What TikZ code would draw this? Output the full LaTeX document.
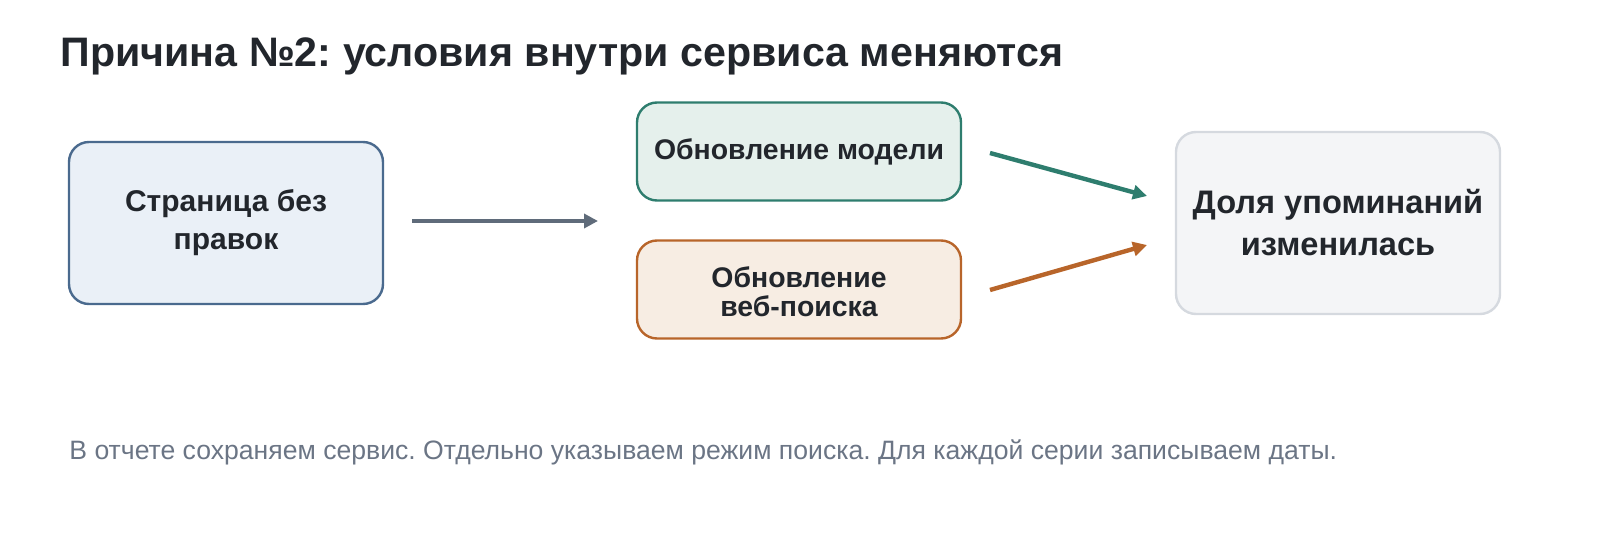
\documentclass[tikz,border=0pt]{standalone}
\usepackage{fontspec}
\setmainfont{Liberation Sans}
\frenchspacing
\definecolor{ink}{HTML}{22262C}
\definecolor{mut}{HTML}{6B7585}
\definecolor{srcln}{HTML}{4A6A8E}\definecolor{srcbg}{HTML}{EAF0F7}
\definecolor{modln}{HTML}{2E7D6E}\definecolor{modbg}{HTML}{E5F0EC}
\definecolor{webln}{HTML}{B8652A}\definecolor{webbg}{HTML}{F7EDE3}
\definecolor{outln}{HTML}{D5D9DF}\definecolor{outbg}{HTML}{F4F5F7}
\definecolor{arr}{HTML}{5F6B7A}
\usetikzlibrary{arrows.meta}
\begin{document}
\begin{tikzpicture}[x=0.5pt,y=-0.5pt]
\tikzstyle{bx}=[rounded corners=10pt,line width=1.2pt,align=center,font=\bfseries,text=ink,inner sep=0pt]
\tikzstyle{ar}=[line width=2.2pt,-{Triangle[length=7pt,width=7pt]}]
\useasboundingbox (0,0) rectangle (1600,550);
\node [anchor=base west,inner sep=0pt,font=\fontsize{20.6}{24}\bfseries\selectfont,text=ink] (title) at (60,67) {Причина №2: условия внутри сервиса меняются};
\node [bx,draw=srcln,fill=srcbg,minimum width=157pt,minimum height=81pt,font=\fontsize{15}{19}\bfseries\selectfont] (src) at (226,223) {Страница без\\правок};
\node [bx,draw=modln,fill=modbg,minimum width=162pt,minimum height=49pt,font=\fontsize{14.2}{16}\bfseries\selectfont] (mod) at (799,151.5) {\raisebox{-4pt}{Обновление модели}};
\node [bx,draw=webln,fill=webbg,minimum width=162pt,minimum height=49pt,font=\fontsize{14.2}{14.5}\bfseries\selectfont] (web) at (799,289.5) {\\[-2pt]Обновление\\веб-поиска};
\node [bx,draw=outln,fill=outbg,minimum width=162pt,minimum height=91pt,font=\fontsize{16.3}{21}\bfseries\selectfont] (out) at (1338,223) {Доля упоминаний\\изменилась};
\coordinate (a1) at (412,221); \coordinate (a2) at (598,221);
\coordinate (b1) at (990,153); \coordinate (b2) at (1147,196);
\coordinate (c1) at (990,290); \coordinate (c2) at (1147,245);
\draw [ar,arr] (a1) -- (a2);
\draw [ar,modln] (b1) -- (b2);
\draw [ar,webln] (c1) -- (c2);
\node [anchor=west,inner sep=0pt,font=\fontsize{13.3}{16}\selectfont,text=mut] (note) at (69,452) {В отчете сохраняем сервис. Отдельно указываем режим поиска. Для каждой серии записываем даты.};
\end{tikzpicture}
\end{document}
